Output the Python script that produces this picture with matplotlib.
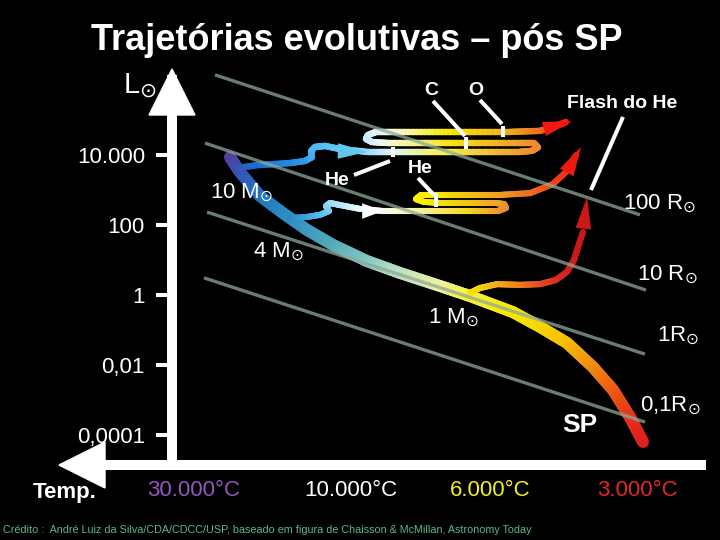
import numpy as np
import matplotlib
matplotlib.use('Agg')
import matplotlib.pyplot as plt
from matplotlib.collections import LineCollection
from matplotlib.colors import to_rgb
from matplotlib.patches import Polygon

plt.rcParams['font.family'] = ['Liberation Sans', 'DejaVu Sans']
plt.rcParams['mathtext.fontset'] = 'dejavusans'

# luminosity axis (log10 L/Lsun)
lum_ticks = [4, 2, 0, -2, -4]
lum_labels = ['10.000', '100', '1', '0,01', '0,0001']

# temperature labels along the horizontal axis (diagram x position)
temp_pos = [194, 351, 490, 637]
temp_labels = ['30.000°C', '10.000°C', '6.000°C', '3.000°C']
temp_colors = ['#9457c0', 'white', '#f4f020', '#e02828']

# lines of constant radius: start / end (x, logL)
rad_x0 = [215, 205, 207, 204]
rad_y0 = [6.29, 4.34, 2.37, 0.49]
rad_x1 = [640, 646, 645, 645]
rad_y1 = [2.29, 0.14, -1.69, -3.63]

# main sequence band
ms_x = [230, 240, 260, 283, 307, 333, 367, 400, 443, 470, 513, 540, 567, 593, 613, 630, 643]
ms_logL = [3.94, 3.51, 2.83, 2.34, 1.86, 1.43, 0.97, 0.63, 0.23, -0.03, -0.49, -0.91,
           -1.37, -2.06, -2.71, -3.49, -4.20]

# 10 Msun track
m10_x = [238, 257, 290, 305, 312, 311, 315, 325, 340, 367, 393, 450, 520, 532, 538, 534,
         520, 450, 390, 372, 366, 368, 376, 400, 450, 510, 540, 556, 566]
m10_logL = [3.63, 3.71, 3.77, 3.83, 3.94, 4.11, 4.23, 4.26, 4.17, 4.09, 4.09, 4.09, 4.09,
            4.12, 4.22, 4.34, 4.34, 4.34, 4.34, 4.37, 4.46, 4.57, 4.66, 4.66, 4.66, 4.66,
            4.69, 4.83, 4.94]

# 4 Msun track
m4_x = [290, 307, 320, 329, 326, 330, 340, 360, 383, 420, 470, 498, 506, 504, 495, 440,
        424, 416, 421, 440, 500, 530, 553, 568, 576]
m4_logL = [2.20, 2.23, 2.29, 2.40, 2.54, 2.63, 2.57, 2.46, 2.40, 2.40, 2.40, 2.40, 2.49,
           2.60, 2.63, 2.63, 2.66, 2.74, 2.86, 2.86, 2.86, 2.91, 3.17, 3.57, 4.00]

# 1 Msun track
m1_x = [470, 480, 497, 520, 540, 556, 567, 574, 578, 583]
m1_logL = [0.06, 0.20, 0.31, 0.29, 0.31, 0.43, 0.66, 1.00, 1.37, 1.80]

ms_colors = ['#5a3c9c', '#3a50b0', '#2070c0', '#2a88c0', '#3898c0', '#50a8b8', '#80c4c0',
             '#b8e0c0', '#f0f0a0', '#f8f040', '#f8e800', '#f8d800', '#f8c000', '#f09010',
             '#f06010', '#e83818', '#e02020']
m10_colors = ['#4050b0', '#1a6cd0', '#2488e0', '#3098e8', '#40a8f0', '#48b0f0', '#50b8f0',
              '#58c0f0', '#60c8f0', '#90d8f8', '#e0f4ff', '#f8f040', '#f0a030', '#f09030',
              '#f08830', '#f08830', '#f09830', '#f8e010', '#f8f8d0', '#e0f4ff', '#c8ecff',
              '#c8ecff', '#e0f4ff', '#f8f8d0', '#f8e800', '#f0b020', '#f07020', '#f04018',
              '#f02010']
m4_colors = ['#2a88c0', '#3aa0e0', '#50b8f0', '#70c8f0', '#80d0f4', '#90d8f8', '#b0e4fa',
             '#e8f8ff', '#f8fcf0', '#f8f4a0', '#f8d820', '#f0a030', '#e89030', '#e89030',
             '#f0a030', '#f8e000', '#f8ec00', '#fff000', '#fff000', '#f8e800', '#f0a020',
             '#f07020', '#f04818', '#f03018', '#f02010']
m1_colors = ['#f8e800', '#f8d800', '#f0b020', '#f08020', '#e85020', '#e03020', '#d82020',
             '#d01c1c', '#c81818', '#c81818']


def gradient_line(ax, x, y, colors, lw, n=12, z=3):
    segs, cols = [], []
    for i in range(len(x) - 1):
        c0 = np.array(to_rgb(colors[i]))
        c1 = np.array(to_rgb(colors[i + 1]))
        for k in range(n):
            t0, t1 = k / n, (k + 1) / n
            segs.append([(x[i] + (x[i + 1] - x[i]) * t0, y[i] + (y[i + 1] - y[i]) * t0),
                         (x[i] + (x[i + 1] - x[i]) * t1, y[i] + (y[i + 1] - y[i]) * t1)])
            cols.append(c0 + (c1 - c0) * (t0 + t1) / 2)
    ax.add_collection(LineCollection(segs, colors=cols, linewidths=lw,
                                     capstyle='round', joinstyle='round', zorder=z))


def head(ax, tip, tail, color, length, half):
    ax.annotate('', xy=tip, xytext=tail,
                arrowprops=dict(arrowstyle='-|>,head_length=%g,head_width=%g' % (length, half),
                                mutation_scale=1, color=color, lw=0,
                                shrinkA=0, shrinkB=0), zorder=4)


fig = plt.figure(figsize=(7.2, 5.4), dpi=100, facecolor='black')

ax = fig.add_axes([172 / 720, 1 - 465 / 540, (701 - 172) / 720, (465 - 80) / 540])
ax.set_facecolor('none')
ax.set_xlim(172, 701)
ax.set_ylim(-4.857, 6.143)
for s in ['top', 'right']:
    ax.spines[s].set_visible(False)
for s in ['left', 'bottom']:
    ax.spines[s].set_color('white')
    ax.spines[s].set_linewidth(7.2)

ax.set_yticks(lum_ticks, lum_labels)
ax.tick_params(axis='y', colors='white', length=11.5, width=2.9, pad=8, labelsize=16)
ax.set_xticks(temp_pos, temp_labels)
ax.tick_params(axis='x', length=0, pad=11, labelsize=16)
for lab, c in zip(ax.get_xticklabels(), temp_colors):
    lab.set_color(c)

# tracks
gradient_line(ax, ms_x, ms_logL, ms_colors, 8.6, z=2)
gradient_line(ax, m10_x, m10_logL, m10_colors, 4.6)
gradient_line(ax, m4_x, m4_logL, m4_colors, 4.4)
gradient_line(ax, m1_x, m1_logL, m1_colors, 4.4)

head(ax, (367, 4.09), (330, 4.12), '#60c8f0', 21, 5.6)
head(ax, (383, 2.40), (355, 2.40), 'white', 15, 5.6)
head(ax, (572, 4.97), (540, 4.71), '#f01810', 21, 5.2)
head(ax, (581, 4.23), (568, 3.57), '#f01810', 21, 5.6)
head(ax, (587, 2.80), (583, 1.80), '#c81818', 23, 5.6)

# constant radius lines
for x0, y0, x1, y1 in zip(rad_x0, rad_y0, rad_x1, rad_y1):
    ax.plot([x0, x1], [y0, y1], color='#8da89c', lw=2.4, alpha=0.75,
            zorder=6, clip_on=False, solid_capstyle='butt')

# overlay in figure pixels for labels and axis arrows
ov = fig.add_axes([0, 0, 1, 1], zorder=10)
ov.set_xlim(0, 720)
ov.set_ylim(540, 0)
ov.axis('off')
ov.patch.set_alpha(0)

ov.add_patch(Polygon([(149, 115), (195, 115), (172, 69)], closed=True, color='white'))
ov.add_patch(Polygon([(105, 442), (105, 488), (59, 465)], closed=True, color='white'))
ov.plot([100, 177], [465, 465], color='white', lw=7.2, solid_capstyle='butt')

ov.text(357, 50, 'Trajetórias evolutivas – pós SP', ha='center', va='baseline',
        fontsize=26, color='white', weight='bold')
ov.text(123, 93, r'L$_{\odot}$', fontsize=21, color='white', va='baseline')
ov.text(65, 498, 'Temp.', ha='center', va='baseline', fontsize=16,
        color='white', weight='bold')
ov.text(3, 533, 'Crédito :  André Luiz da Silva/CDA/CDCC/USP, baseado em figura de '
        'Chaisson & McMillan, Astronomy Today', fontsize=7.75, color='#5cb88a', va='baseline')

for txt, x, y in [(r'10 M$_{\odot}$', 210, 198), (r'4 M$_{\odot}$', 253, 257),
                  (r'1 M$_{\odot}$', 428, 323), (r'100 R$_{\odot}$', 623, 209),
                  (r'10 R$_{\odot}$', 637, 280), (r'1R$_{\odot}$', 657, 341),
                  (r'0,1R$_{\odot}$', 640, 411)]:
    ov.text(x, y, txt, fontsize=16, color='white', va='baseline')
ov.text(580, 432, 'SP', ha='center', va='baseline', fontsize=19, color='white', weight='bold')

for txt, x, y in [('C', 431, 95), ('O', 476, 95), ('He', 337, 185), ('He', 420, 173),
                  ('Flash do He', 622, 108)]:
    ov.text(x, y, txt, ha='center', va='baseline', fontsize=14, color='white', weight='bold')

for xs, ys in [([433, 465], [101, 136]), ([480, 502], [100, 124]), ([354, 390], [175, 161]),
               ([418, 434], [178, 195]), ([623, 591], [117, 190]),
               ([466, 466], [137, 149]), ([503, 503], [126, 137]),
               ([393, 393], [147, 157]), ([436, 436], [193, 207])]:
    ov.plot(xs, ys, color='white', lw=2.9, solid_capstyle='butt')

fig.savefig('out.png', dpi=100, facecolor='black')
